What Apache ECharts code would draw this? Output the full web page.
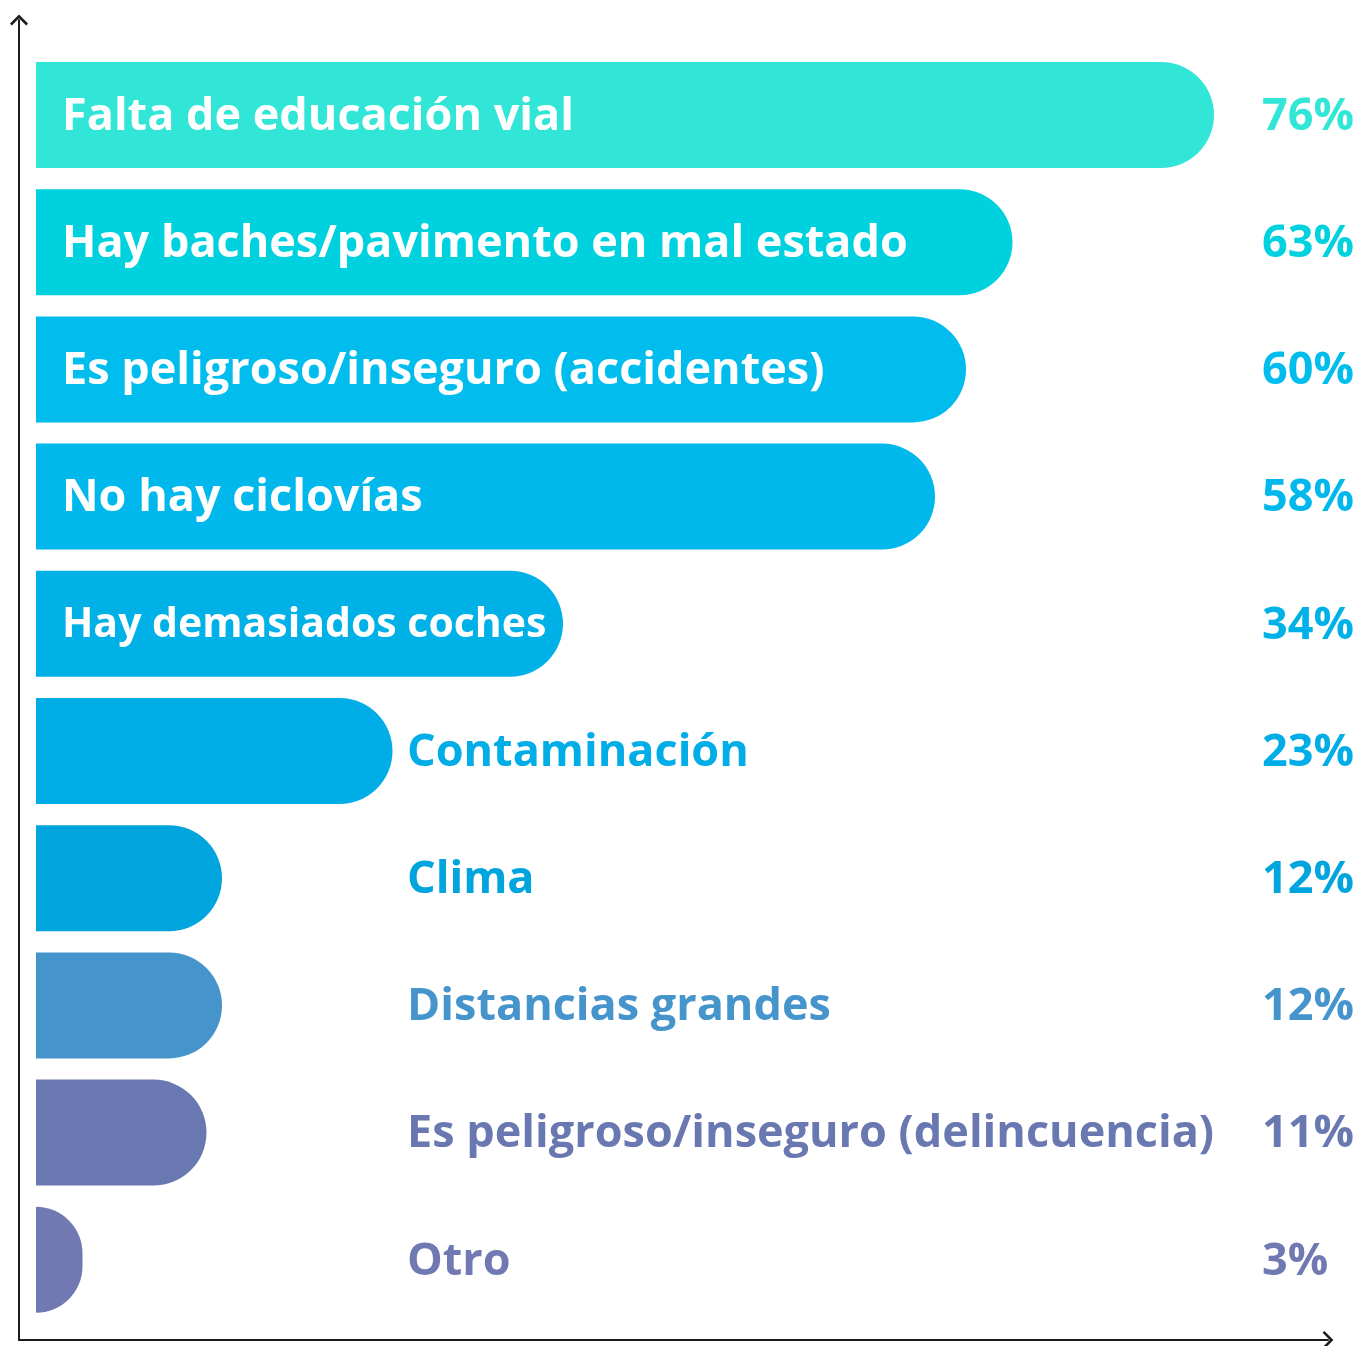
<!DOCTYPE html>
<html>
<head>
<meta charset="utf-8">
<script src="https://cdn.jsdelivr.net/npm/echarts@6/dist/echarts.min.js"></script>
<style>
html,body{margin:0;padding:0;background:#fff;}
#chart{width:1357px;height:1346px;}
</style>
</head>
<body>
<div id="chart"></div>
<script>
const categories = [
  'Falta de educación vial',
  'Hay baches/pavimento en mal estado',
  'Es peligroso/inseguro (accidentes)',
  'No hay ciclovías',
  'Hay demasiados coches',
  'Contaminación',
  'Clima',
  'Distancias grandes',
  'Es peligroso/inseguro (delincuencia)',
  'Otro'
];
const values = [76, 63, 60, 58, 34, 23, 12, 12, 11, 3];
const colors = ['#31E6D6', '#00D1DE', '#00BDEE', '#00B8EB', '#00B1E8', '#00ADE6', '#00A5DD', '#4594CC', '#6978B0', '#7179B3'];
const labelInside = [true, true, true, true, true, false, false, false, false, false];

const FONT = '"Open Sans", sans-serif';
const FS = 45;
const ARROW = 'path://M0,10 L10,0 L20,10 L18,12 L10,4 L2,12 Z';

const chart = echarts.init(document.getElementById('chart'), null, {renderer: 'canvas'});

const barData = values.map((v, i) => ({
  value: v,
  itemStyle: {color: colors[i], borderRadius: [0, 53, 53, 0]},
  label: labelInside[i]
    ? {show: true, position: 'insideLeft', distance: 26, color: '#ffffff', overflow: 'none', fontSize: v < 40 ? 41 : FS, offset: [0, 2]}
    : {show: true, position: [371, '50%'], align: 'left', verticalAlign: 'middle', color: colors[i], offset: [0, 2]}
}));

const pctData = values.map((v, i) => ({
  value: v,
  label: {color: colors[i]}
}));

chart.setOption({
  animation: false,
  grid: [
    {left: 19, top: 20, right: 29, bottom: 6},
    {left: 36, top: 51.4, right: 81, bottom: 22.6}
  ],
  xAxis: [
    {
      gridIndex: 0, type: 'value', min: 0, max: 1,
      axisLine: {show: true, onZero: false, symbol: ['none', ARROW], symbolSize: [18, 11], lineStyle: {color: '#1c1c1c', width: 2}},
      axisTick: {show: false}, axisLabel: {show: false}, splitLine: {show: false}
    },
    {
      gridIndex: 1, type: 'value', min: 0, max: 80, show: false
    }
  ],
  yAxis: [
    {
      gridIndex: 0, type: 'value', min: 0, max: 1,
      axisLine: {show: true, onZero: false, symbol: ['none', ARROW], symbolSize: [18, 11], lineStyle: {color: '#1c1c1c', width: 2}},
      axisTick: {show: false}, axisLabel: {show: false}, splitLine: {show: false}
    },
    {
      gridIndex: 1, type: 'category', inverse: true, data: categories, show: false
    }
  ],
  series: [
    {
      type: 'bar', xAxisIndex: 1, yAxisIndex: 1,
      barWidth: 106,
      data: barData,
      label: {
        show: true, fontFamily: FONT, fontWeight: 'bold', fontSize: FS,
        formatter: p => categories[p.dataIndex]
      }
    },
    {
      type: 'bar', xAxisIndex: 1, yAxisIndex: 1,
      barWidth: 106, barGap: '-100%', silent: true,
      itemStyle: {color: 'rgba(0,0,0,0)'},
      data: pctData,
      label: {
        show: true, position: [1226, '50%'], align: 'left', verticalAlign: 'middle',
        offset: [0, 2],
        fontFamily: FONT, fontWeight: 'bold', fontSize: FS,
        formatter: p => values[p.dataIndex] + '%'
      }
    }
  ]
});
</script>
</body>
</html>
